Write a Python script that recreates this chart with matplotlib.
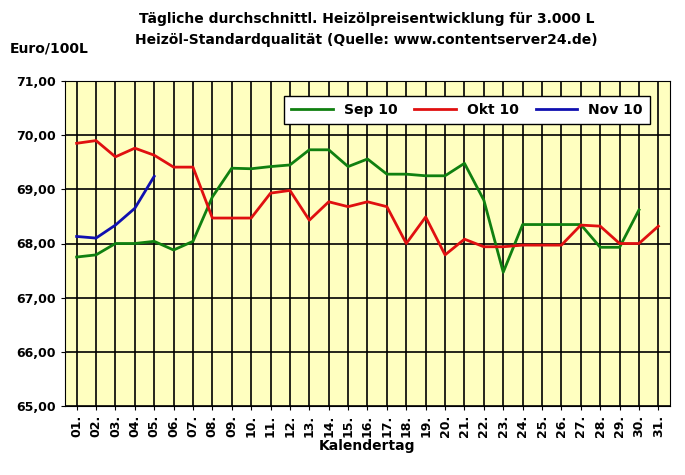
import matplotlib
matplotlib.use("Agg")
import matplotlib.pyplot as plt
import numpy as np

days = [f"{d:02d}." for d in range(1, 32)]
sep10 = [67.75, 67.79, 68.0, 68.0, 68.04, 67.88, 68.04, 68.86, 69.39, 69.38,
         69.42, 69.45, 69.73, 69.73, 69.42, 69.56, 69.28, 69.28, 69.25, 69.25,
         69.48, 68.8, 67.47, 68.35, 68.35, 68.35, 68.35, 67.93, 67.93, 68.62]
okt10 = [69.85, 69.9, 69.6, 69.76, 69.63, 69.41, 69.41, 68.47, 68.47, 68.47,
         68.93, 68.98, 68.43, 68.77, 68.68, 68.77, 68.68, 68.0, 68.49, 67.79,
         68.08, 67.94, 67.94, 67.97, 67.97, 67.97, 68.34, 68.32, 68.0, 68.0, 68.32]
nov10 = [68.13, 68.1, 68.34, 68.65, 69.24]

fig = plt.figure(figsize=(6.85, 4.75), dpi=100)
fig.patch.set_facecolor("white")
ax = fig.add_axes([65/685, 1-406/475, (670-65)/685, (406-81)/475])
ax.set_facecolor("#FFFFC0")

x = np.arange(1, 32)
ax.plot(x[:len(sep10)], sep10, color="#108010", lw=2, label="Sep 10")
ax.plot(x[:len(okt10)], okt10, color="#E01010", lw=2, label="Okt 10")
ax.plot(x[:len(nov10)], nov10, color="#1010B0", lw=2, label="Nov 10")

ax.set_xlim(0.4, 31.6)
ax.set_ylim(65, 71)
ax.set_xticks(x)
ax.set_xticklabels(days, rotation=90, fontsize=9, fontweight="bold")
ax.set_yticks(np.arange(65, 72))
ax.set_yticklabels([f"{v},00" for v in range(65, 72)], fontsize=9, fontweight="bold")
ax.grid(True, color="black", lw=1.2)
ax.set_axisbelow(True)
ax.tick_params(length=3)
for s in ax.spines.values():
    s.set_color("black")

ax.set_xlabel("Kalendertag", fontsize=10, fontweight="bold", labelpad=1)
fig.text(10/685, 1-48/475, "Euro/100L", fontsize=10, fontweight="bold", va="center")
fig.text(0.535, 1-19/475, "Tägliche durchschnittl. Heizölpreisentwicklung für 3.000 L",
         fontsize=10, fontweight="bold", ha="center", va="center")
fig.text(0.535, 1-40/475, "Heizöl-Standardqualität (Quelle: www.contentserver24.de)",
         fontsize=10, fontweight="bold", ha="center", va="center")

leg = ax.legend(loc="upper right", bbox_to_anchor=(0.978, 0.975), ncol=3,
                prop={"weight": "bold", "size": 10}, fancybox=False, framealpha=1,
                edgecolor="black", handlelength=3, borderpad=0.5, columnspacing=1.2)

fig.savefig("out.png", dpi=100)
